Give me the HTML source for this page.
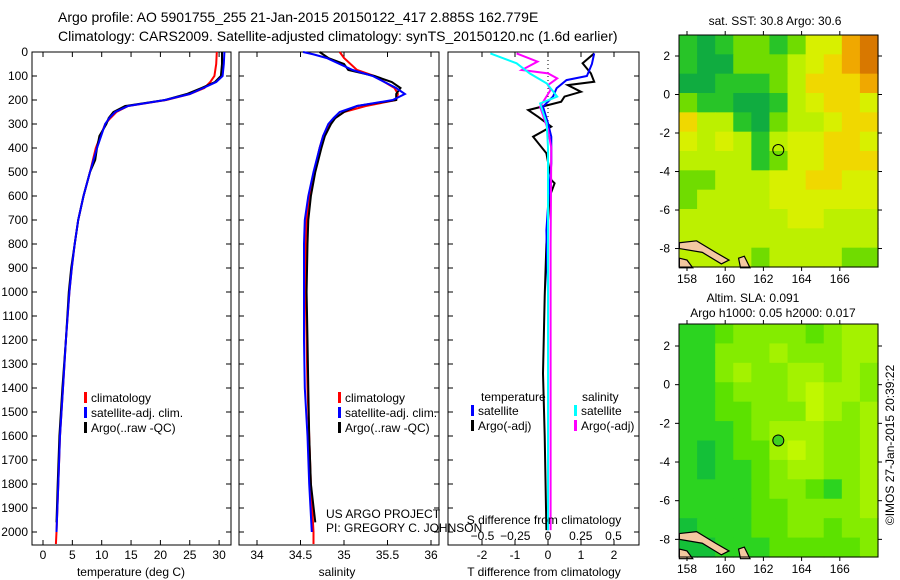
<!DOCTYPE html>
<html><head><meta charset="utf-8"><style>
body{margin:0;background:#fff;}
svg{display:block;font-family:"Liberation Sans",sans-serif;}
</style></head><body>
<svg id="s" width="900" height="580" viewBox="0 0 900 580" xmlns="http://www.w3.org/2000/svg">
<text x="58" y="22" font-size="14">Argo profile: AO 5901755_255 21-Jan-2015 20150122_417 2.885S 162.779E</text>
<text x="58" y="41" font-size="14">Climatology: CARS2009. Satellite-adjusted climatology: synTS_20150120.nc (1.6d earlier)</text>
</svg>
<script>
// ---------- data ----------
const depthTicks=[0,100,200,300,400,500,600,700,800,900,1000,1100,1200,1300,1400,1500,1600,1700,1800,1900,2000];
const tempTicks=[0,5,10,15,20,25,30];
const salTicks=[34,34.5,35,35.5,36];
const tdiffTicks=[-2,-1,0,1,2];
const sdiffTicks=[-0.5,-0.25,0,0.25,0.5];
const sdiffLabels=["\u22120.5","\u22120.25","0","0.25","0.5"];
const latTicks=[2,0,-2,-4,-6,-8];
const lonTicks=[158,160,162,164,166];

const tClimDepth=[0,50,100,125,150,175,200,225,250,275,300,350,400,500,600,700,800,900,1000,1200,1400,1600,1800,2000,2050];
const tClimVal=[29.6,29.5,29.2,28.5,27.5,25,21,14.5,12.5,11.5,10.6,9.8,9,8,6.9,6,5.4,4.9,4.5,3.9,3.4,2.9,2.6,2.3,2.2];
const tSatDepth=[0,50,100,125,150,175,200,225,250,275,300,350,400,500,600,700,800,900,1000,1200,1400,1600,1800,2000];
const tSatVal=[30.9,30.8,30.6,29.5,27.3,25,20.8,14.5,12.3,11.3,10.6,9.9,9.2,8,6.9,6,5.4,4.9,4.5,3.9,3.4,2.9,2.6,2.3];
const tArgoDepth=[0,50,100,125,150,175,200,225,250,275,300,350,400,450,500,600,700,800,900,1000,1200,1400,1600,1800,1960];
const tArgoVal=[30.5,30.5,30.3,29.3,27,24.5,20.8,14,12,11.2,10.8,9.6,9.2,8.9,8,6.9,6,5.4,4.8,4.4,3.9,3.3,2.8,2.5,2.3];

const sClimDepth=[0,25,75,100,150,175,200,225,250,275,300,350,400,500,600,700,800,1000,1200,1400,1600,1800,2000,2050];
const sClimVal=[34.95,35.0,35.15,35.35,35.58,35.62,35.6,35.25,35.0,34.9,34.83,34.76,34.72,34.66,34.6,34.57,34.56,34.56,34.57,34.58,34.6,34.62,34.65,34.65];
const sSatDepth=[0,10,25,75,100,150,175,200,225,250,275,300,350,400,500,600,700,800,1000,1200,1400,1600,1800,2000];
const sSatVal=[34.53,34.65,34.8,35.1,35.33,35.6,35.7,35.56,35.15,34.95,34.88,34.82,34.76,34.72,34.65,34.59,34.55,34.54,34.54,34.54,34.55,34.58,34.6,34.63];
const sArgoDepth=[0,25,50,75,100,125,150,175,200,225,250,275,300,350,400,500,600,700,800,1000,1200,1400,1600,1800,1960];
const sArgoVal=[34.72,34.82,35.0,35.05,35.35,35.55,35.65,35.6,35.6,35.15,35.0,34.9,34.85,34.78,34.74,34.67,34.62,34.59,34.58,34.57,34.58,34.59,34.6,34.62,34.67];

const dTSatDepth=[6,50,100,117,151,186,228,297,353,464,603,742,1000,1500,1992];
const dTSatVal=[1.4,1.33,1.18,0.56,0.26,0.15,-0.15,0.0,0.1,0.1,0.02,-0.05,0.0,0.0,0.0];
const dTArgoDepth=[6,47,89,124,138,166,186,207,242,270,311,353,422,533,547,603,800,1019,1339,1600,1992];
const dTArgoVal=[1.4,1.05,1.3,1.4,0.6,1.0,0.5,0.4,-0.6,-0.3,0.1,-0.45,-0.05,0.1,0.2,0.05,-0.05,-0.1,-0.15,-0.1,-0.05];
const dSSatDepth=[6,47,89,131,186,214,297,400,800,1500,1992];
const dSSatVal=[-0.44,-0.24,-0.14,-0.01,0.07,-0.06,-0.01,0.0,0.0,0.0,0.0];
const dSArgoDepth=[6,40,75,89,110,138,158,228,325,400,800,1500,1992];
const dSArgoVal=[-0.24,-0.08,-0.2,0,0.07,0.0,0.02,-0.06,0.0,0.025,0.02,0.02,0.02];

const sstGrid=[
[1,0,1,2,2,1,2,4,4,6,7],[1,0,0,2,2,2,3,4,5,6,7],[0,0,1,1,1,2,3,5,5,5,6],[2,1,1,0,0,1,3,4,5,5,4],
[5,3,3,1,0,2,3,3,4,5,5],[4,3,4,3,1,3,4,4,5,5,4],[3,3,3,3,1,2,4,4,5,5,5],[2,2,3,3,3,4,4,5,5,4,4],
[2,3,3,3,3,4,4,4,4,4,4],[3,3,3,3,3,3,4,4,3,3,3],[3,3,3,3,3,3,3,3,3,3,3],[3,3,3,3,2,3,3,3,3,2,2]];
const slaGrid=[
[1,1,2,3,3,3,3,2,3,4,4],[1,1,3,3,3,4,3,3,3,4,4],[1,1,3,4,3,3,4,4,3,4,3],[1,1,2,3,3,3,4,5,4,4,3],
[1,1,2,2,3,3,3,5,4,3,4],[1,1,1,2,3,4,4,4,3,3,4],[1,0,1,2,2,4,5,4,3,3,4],[1,0,1,1,2,3,4,4,3,3,4],
[1,1,1,1,2,3,3,2,1,3,4],[1,1,1,1,2,2,3,3,3,3,4],[0,1,1,1,2,2,3,3,2,3,3],[0,0,1,1,1,2,2,2,2,2,3]];
const sstColors=["#10ac40","#28c428","#70dc00","#bcf000","#d8f000","#f0d800","#f0a800","#d87800"];
const slaColors=["#14c038","#2cd420","#5ce200","#84ec00","#a4f200","#c0f800"];
const argoLon=162.78, argoLat=-2.885;

// ---------- helpers ----------
const NS="http://www.w3.org/2000/svg";
const svg=document.getElementById('s');
function mk(tag,attrs,parent){const e=document.createElementNS(NS,tag);for(const k in attrs)e.setAttribute(k,attrs[k]);(parent||svg).appendChild(e);return e;}
const yD=d=>52+d*0.24;
const xT=t=>43+t*5.87;
const xS=s=>257+(s-34)*87;
const xDT=t=>548+t*33;
const xDS=s=>548+s*131;
const TOP=52,BOT=545;

function panel(x0,x1,name){
  const r=mk('rect',{x:x0,y:TOP,width:x1-x0,height:BOT-TOP,fill:'none',stroke:'#000','stroke-width':1});
  
  
  depthTicks.forEach(d=>{
    mk('line',{x1:x0,x2:x0+5,y1:yD(d),y2:yD(d),stroke:'#000'});
    mk('line',{x1:x1,x2:x1-5,y1:yD(d),y2:yD(d),stroke:'#000'});
  });
}
function curve(xs,ds,xf,color,name){
  const pts=xs.map((v,i)=>xf(v).toFixed(1)+','+yD(ds[i]).toFixed(1)).join(' ');
  const p=mk('polyline',{points:pts,fill:'none',stroke:color,'stroke-width':2});
  
  
}
function txt(x,y,s,opts){const t=mk('text',Object.assign({x:x,y:y,'font-size':12},opts||{}));t.textContent=s;return t;}
function xticks(ticks,xf,y,labY,name){
  ticks.forEach(v=>{
    const x=xf(v);
    mk('line',{x1:x,x2:x,y1:BOT,y2:BOT-5,stroke:'#000'});
    mk('line',{x1:x,x2:x,y1:TOP,y2:TOP+5,stroke:'#000'});
    const t=txt(x,labY,String(v),{'text-anchor':'middle'});
    
    
  });
}
function legend(x,y,items){
  items.forEach((it,i)=>{
    mk('rect',{x:x,y:y+i*15-10,width:3,height:11,fill:it[0]});
    const t=txt(x+7,y+i*15,it[1]);
    
    
  });
}

depthTicks.forEach(d=>{
  const t=txt(28,yD(d)+4,String(d),{'text-anchor':'end'});
  
  
});

// panel 1 temperature
panel(32,231,'temperature-panel');
xticks(tempTicks,xT,BOT,559,'temperature-tick-label');
curve(tClimVal,tClimDepth,xT,'#f00','temp-climatology-line');
curve(tArgoVal,tArgoDepth,xT,'#000','temp-argo-line');
curve(tSatVal,tSatDepth,xT,'#00f','temp-satellite-line');
txt(131,576,'temperature (deg C)',{'text-anchor':'middle'});
legend(84,402,[['#f00','climatology'],['#00f','satellite-adj. clim.'],['#000','Argo(..raw -QC)']]);

// panel 2 salinity
panel(239,439,'salinity-panel');
xticks(salTicks,xS,BOT,559,'salinity-tick-label');
curve(sClimVal,sClimDepth,xS,'#f00','sal-climatology-line');
curve(sArgoVal,sArgoDepth,xS,'#000','sal-argo-line');
curve(sSatVal,sSatDepth,xS,'#00f','sal-satellite-line');
txt(337,576,'salinity',{'text-anchor':'middle'});
legend(338,402,[['#f00','climatology'],['#00f','satellite-adj. clim.'],['#000','Argo(..raw -QC)']]);
txt(326,518,'US ARGO PROJECT');
txt(326,532,'PI: GREGORY C. JOHNSON');

// panel 3 differences
panel(448,639,'difference-panel');
mk('line',{x1:548,x2:548,y1:TOP,y2:BOT,stroke:'#000','stroke-dasharray':'1,3'});
xticks(tdiffTicks,xDT,BOT,559,'tdiff-tick-label');
sdiffTicks.forEach((v,i)=>{
  const t=txt(xDS(v),540,sdiffLabels[i],{'text-anchor':'middle'});
  
  
});
curve(dTArgoVal,dTArgoDepth,xDT,'#000','tdiff-argo-line');
curve(dTSatVal,dTSatDepth,xDT,'#00f','tdiff-satellite-line');
curve(dSArgoVal,dSArgoDepth,xDS,'#f0f','sdiff-argo-line');
curve(dSSatVal,dSSatDepth,xDS,'#0ff','sdiff-satellite-line');
txt(481,401,'temperature');
txt(582,401,'salinity');
legend(471,415,[['#00f','satellite'],['#000','Argo(-adj)']]);
legend(574,415,[['#0ff','satellite'],['#f0f','Argo(-adj)']]);
txt(544,524,'S difference from climatology',{'text-anchor':'middle'});
txt(544,576,'T difference from climatology',{'text-anchor':'middle'});

// maps
function map(top,bottom,lat2y,grid,colors,name,circleFill){
  const L=679,R=878;
  const xL=lon=>687+(lon-158)*19.1;
  const yL=lat=>lat2y+(2-lat)*((bottom-top)/12.05);
  const g=mk('g',{});
  
  
  const rows=grid.length, cols=grid[0].length;
  const cw=(R-L)/cols, ch=(bottom-top)/rows;
  grid.forEach((row,i)=>row.forEach((v,j)=>{
    const c=mk('rect',{x:(L+j*cw).toFixed(2),y:(top+i*ch).toFixed(2),width:(cw+0.6).toFixed(2),height:(ch+0.6).toFixed(2),fill:colors[v]},g);
    
    
  }));
  mk('polygon',{points:`${xL(157.6)},${yL(-7.7)} ${xL(158.5)},${yL(-7.6)} ${xL(159.5)},${yL(-8.2)} ${xL(160.2)},${yL(-8.6)} ${xL(159.8)},${yL(-8.8)} ${xL(158.8)},${yL(-8.2)} ${xL(157.6)},${yL(-8.0)}`,fill:'#f4c8a0',stroke:'#000','stroke-width':1.2},g);
  mk('polygon',{points:`${xL(157.6)},${yL(-8.5)} ${xL(158.0)},${yL(-8.6)} ${xL(158.3)},${yL(-9.0)} ${xL(157.6)},${yL(-9.0)}`,fill:'#f4c8a0',stroke:'#000','stroke-width':1.2},g);
  mk('polygon',{points:`${xL(160.7)},${yL(-8.5)} ${xL(161.0)},${yL(-8.4)} ${xL(161.3)},${yL(-9.0)} ${xL(160.8)},${yL(-9.0)}`,fill:'#f4c8a0',stroke:'#000','stroke-width':1.2},g);
  const fr=mk('rect',{x:L,y:top,width:R-L,height:bottom-top,fill:'none',stroke:'#000'});
  
  
  latTicks.forEach(la=>{
    const y=yL(la);
    mk('line',{x1:L-4,x2:L,y1:y,y2:y,stroke:'#000'});
    mk('line',{x1:R,x2:R+4,y1:y,y2:y,stroke:'#000'});
    const t=txt(670,y+4,String(la),{'text-anchor':'end'});
    
    
  });
  lonTicks.forEach(lo=>{
    const x=xL(lo);
    mk('line',{x1:x,x2:x,y1:top-4,y2:top,stroke:'#000'});
    mk('line',{x1:x,x2:x,y1:bottom,y2:bottom+4,stroke:'#000'});
    const t=txt(x,bottom+16,String(lo),{'text-anchor':'middle'});
    
    
  });
  const c=mk('circle',{cx:xL(argoLon),cy:yL(argoLat),r:5.5,fill:circleFill,stroke:'#000'});
  
  
}
map(35,267,56,sstGrid,sstColors,'sst-map','none');
map(324,557,346,slaGrid,slaColors,'sla-map','#40d020');
txt(775,25,'sat. SST: 30.8 Argo: 30.6',{'text-anchor':'middle'});
txt(753,302,'Altim. SLA: 0.091',{'text-anchor':'middle'});
txt(773,317,'Argo h1000: 0.05 h2000: 0.017',{'text-anchor':'middle'});
const cr=txt(0,0,'©IMOS 27-Jan-2015 20:39:22',{'text-anchor':'middle',transform:'translate(894,445) rotate(-90)'});


</script>
</body></html>
